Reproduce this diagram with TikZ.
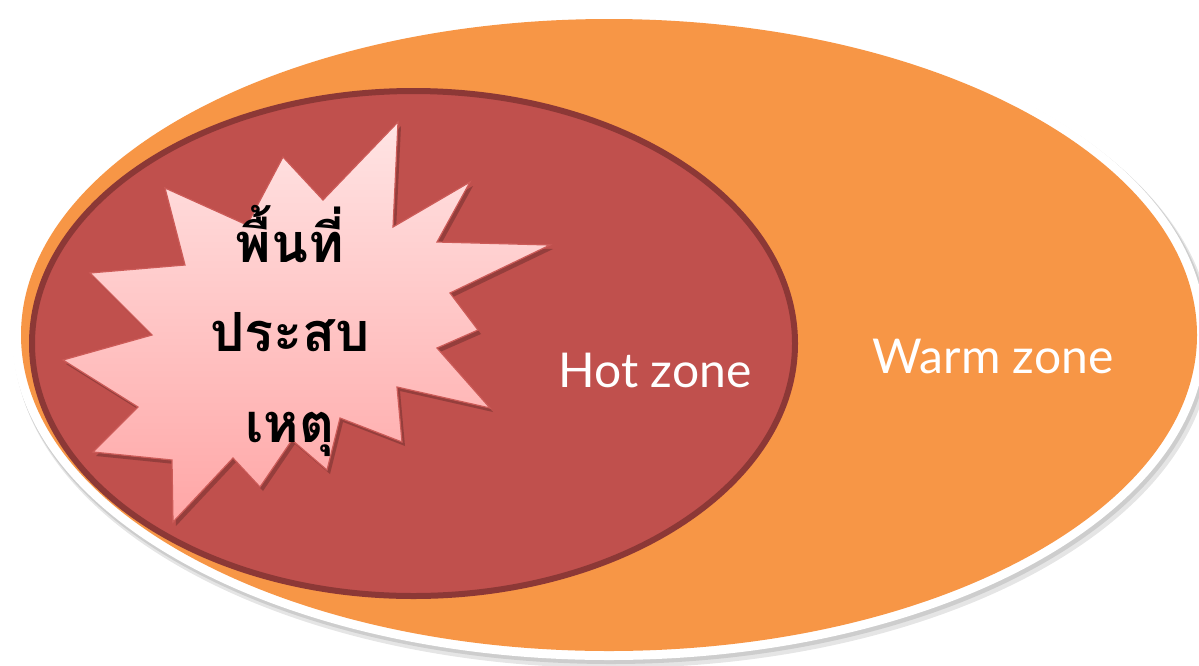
\documentclass[tikz,border=0pt]{standalone}
\usepackage{fontspec}
\setmainfont{Lato}
\newfontfamily\thaifont[Script=Thai]{Loma}
\definecolor{warm}{HTML}{F79646}
\definecolor{hot}{HTML}{C0504D}
\definecolor{hotedge}{HTML}{8C3836}
\definecolor{startop}{HTML}{FFE4E4}
\definecolor{starbot}{HTML}{FFA6A6}
\definecolor{staredge}{HTML}{CC5B58}
\begin{document}
\begin{tikzpicture}[x=0.5pt,y=-0.5pt,
  zonelabel/.style={text=white,font=\fontsize{24}{28}\selectfont,anchor=base,inner sep=0pt},
  thailabel/.style={font=\thaifont\bfseries\fontsize{27}{30}\selectfont,anchor=base,text=black,inner sep=0pt}]
\useasboundingbox (0,0) rectangle (1199,665);
\fill[white] (0,0) rectangle (1199,665);
% outer (warm) zone with white rim and soft shadow
\fill[black,opacity=0.10] (613,341) ellipse [x radius=599, y radius=327];
\fill[black,opacity=0.10] (611,338) ellipse [x radius=598, y radius=326];
\fill[white] (609,335) ellipse [x radius=597, y radius=325];
\fill[warm] (609,335) ellipse [x radius=588, y radius=316];
\coordinate (outer) at (609,335);
% inner (hot) zone
\draw[hotedge, line width=3pt, fill=hot] (413.5,343.5) ellipse [x radius=381.5, y radius=252.5];
\coordinate (inner) at (413.5,343.5);
% starburst shadow
\fill[black,opacity=0.22,shift={(3,4)}]
  (398,122) -- (393,227) -- (470,182) -- (437,242) -- (550,245) -- (450,293) --
  (478,330) -- (437,348) -- (490,408) -- (397,387) -- (402,442) -- (340,418) --
  (327,470) -- (292,440) -- (260,487) -- (233,458) -- (173,522) -- (172,460) --
  (93,452) -- (138,407) -- (63,360) -- (152,335) -- (90,273) -- (185,265) --
  (165,188) -- (247,225) -- (283,157) -- (323,200) -- cycle;
% starburst
\path[top color=startop, bottom color=starbot, draw=staredge, line width=0.6pt, line join=miter]
  (398,122) -- (393,227) -- (470,182) -- (437,242) -- (550,245) -- (450,293) --
  (478,330) -- (437,348) -- (490,408) -- (397,387) -- (402,442) -- (340,418) --
  (327,470) -- (292,440) -- (260,487) -- (233,458) -- (173,522) -- (172,460) --
  (93,452) -- (138,407) -- (63,360) -- (152,335) -- (90,273) -- (185,265) --
  (165,188) -- (247,225) -- (283,157) -- (323,200) -- cycle;
\coordinate (burst) at (290,330);
% texts
\node[thailabel] (t1) at (290,262) {พื้นที่};
\node[thailabel] (t2) at (290,351) {ประสบ};
\node[thailabel] (t3) at (290,442) {เหตุ};
\node[zonelabel] (hotlbl) at (655,387) {Hot zone};
\node[zonelabel] (warmlbl) at (993,373) {Warm zone};
\end{tikzpicture}
\end{document}
